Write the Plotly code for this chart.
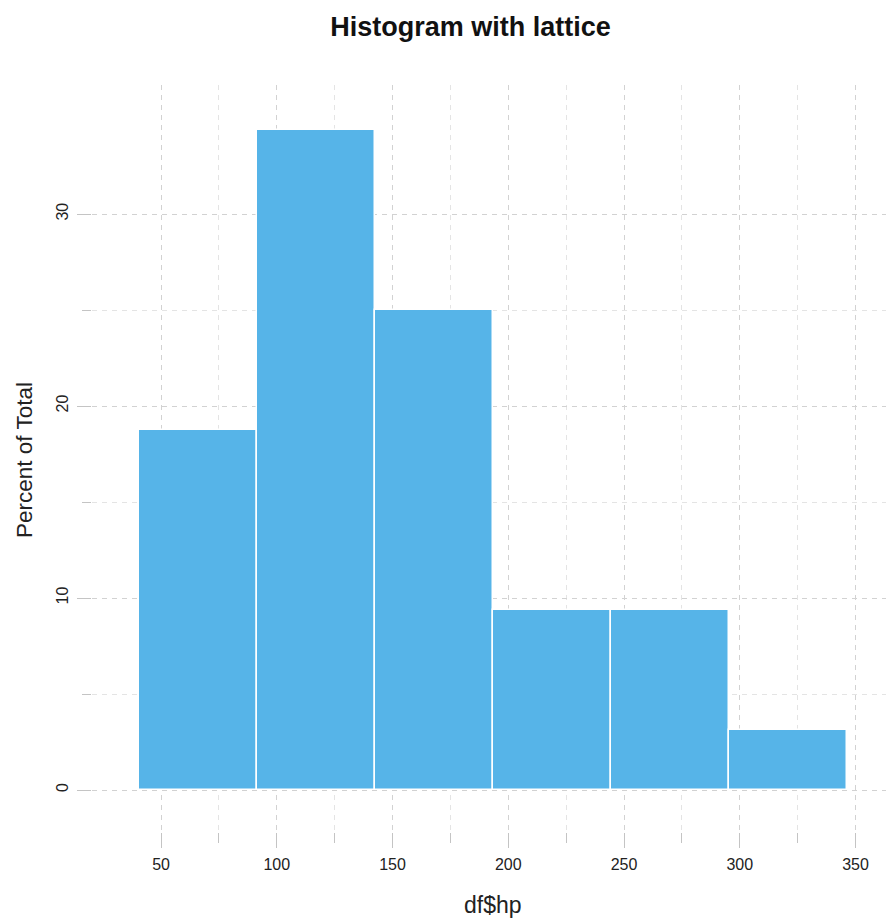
import plotly.graph_objects as go

# Histogram of mtcars horsepower (lattice-style bins), percent of total
bin_edges = [40.68, 91.62, 142.55, 193.48, 244.42, 295.35, 346.28]
percent_of_total = [18.75, 34.375, 25.0, 9.375, 9.375, 3.125]
x_ticks = [50, 100, 150, 200, 250, 300, 350]
x_minor = [75, 125, 175, 225, 275, 325]
y_ticks = [0, 10, 20, 30]
y_minor = [5, 15, 25]

centers = [(a + b) / 2 for a, b in zip(bin_edges[:-1], bin_edges[1:])]
widths = [b - a for a, b in zip(bin_edges[:-1], bin_edges[1:])]

fig = go.Figure(
    go.Bar(
        x=centers,
        y=percent_of_total,
        width=widths,
        marker=dict(color="#56B4E8", line=dict(color="#ffffff", width=1.5)),
        hoverinfo="x+y",
    )
)

font_family = "Liberation Sans, Arial, sans-serif"
W, H = 886, 914
L, R, T, B = 84, 0, 77, 90
pw, ph = W - L - R, H - T - B

grid_major = "#d2d2d2"
grid_minor = "#e4e4e4"
tick_col = "#c4c4c4"
dash = "5px,5px"

fig.update_layout(
    width=W,
    height=H,
    margin=dict(l=L, r=R, t=T, b=B, autoexpand=False),
    paper_bgcolor="white",
    plot_bgcolor="white",
    showlegend=False,
    font=dict(family=font_family, color="#222222"),
    title=dict(
        text="<b>Histogram with lattice</b>",
        x=462.5 / W,
        xanchor="center",
        y=1 - 19 / H,
        yanchor="middle",
        font=dict(size=27, color="#111111", family=font_family),
    ),
    bargap=0,
    annotations=[
        dict(
            text="Percent of Total",
            xref="paper", yref="paper",
            x=(16 - L) / pw, y=(H - B - 452) / ph,
            xanchor="center", yanchor="middle",
            textangle=-90, showarrow=False,
            font=dict(size=22.5, color="#222222"),
        ),
        dict(
            text="df$hp",
            xref="paper", yref="paper",
            x=(485 - L) / pw, y=(H - B - 897) / ph,
            xanchor="center", yanchor="middle",
            showarrow=False,
            font=dict(size=23, color="#222222"),
        ),
    ],
)

fig.update_xaxes(
    range=[20.19, 366.6],
    tickvals=x_ticks,
    ticktext=[str(v) for v in x_ticks],
    tickfont=dict(size=16),
    ticks="outside",
    ticklen=15,
    tickwidth=1,
    tickcolor=tick_col,
    ticklabelstandoff=3,
    showgrid=True,
    gridcolor=grid_major,
    griddash=dash,
    gridwidth=1,
    minor=dict(tickvals=x_minor, showgrid=True, gridcolor=grid_minor, griddash=dash,
               gridwidth=1, ticks="outside", ticklen=10, tickcolor=tick_col, tickwidth=1),
    zeroline=False,
    showline=False,
    automargin=False,
)

fig.update_yaxes(
    range=[-2.1875, 36.72],
    tickvals=y_ticks,
    ticktext=[str(v) for v in y_ticks],
    tickfont=dict(size=16),
    tickangle=-90,
    ticks="outside",
    ticklen=14,
    tickwidth=1,
    tickcolor=tick_col,
    ticklabelstandoff=3,
    showgrid=True,
    gridcolor=grid_major,
    griddash=dash,
    gridwidth=1,
    minor=dict(tickvals=y_minor, showgrid=True, gridcolor=grid_minor, griddash=dash,
               gridwidth=1, ticks="outside", ticklen=9, tickcolor=tick_col, tickwidth=1),
    zeroline=False,
    showline=False,
    automargin=False,
)

fig.write_html("out.html")
